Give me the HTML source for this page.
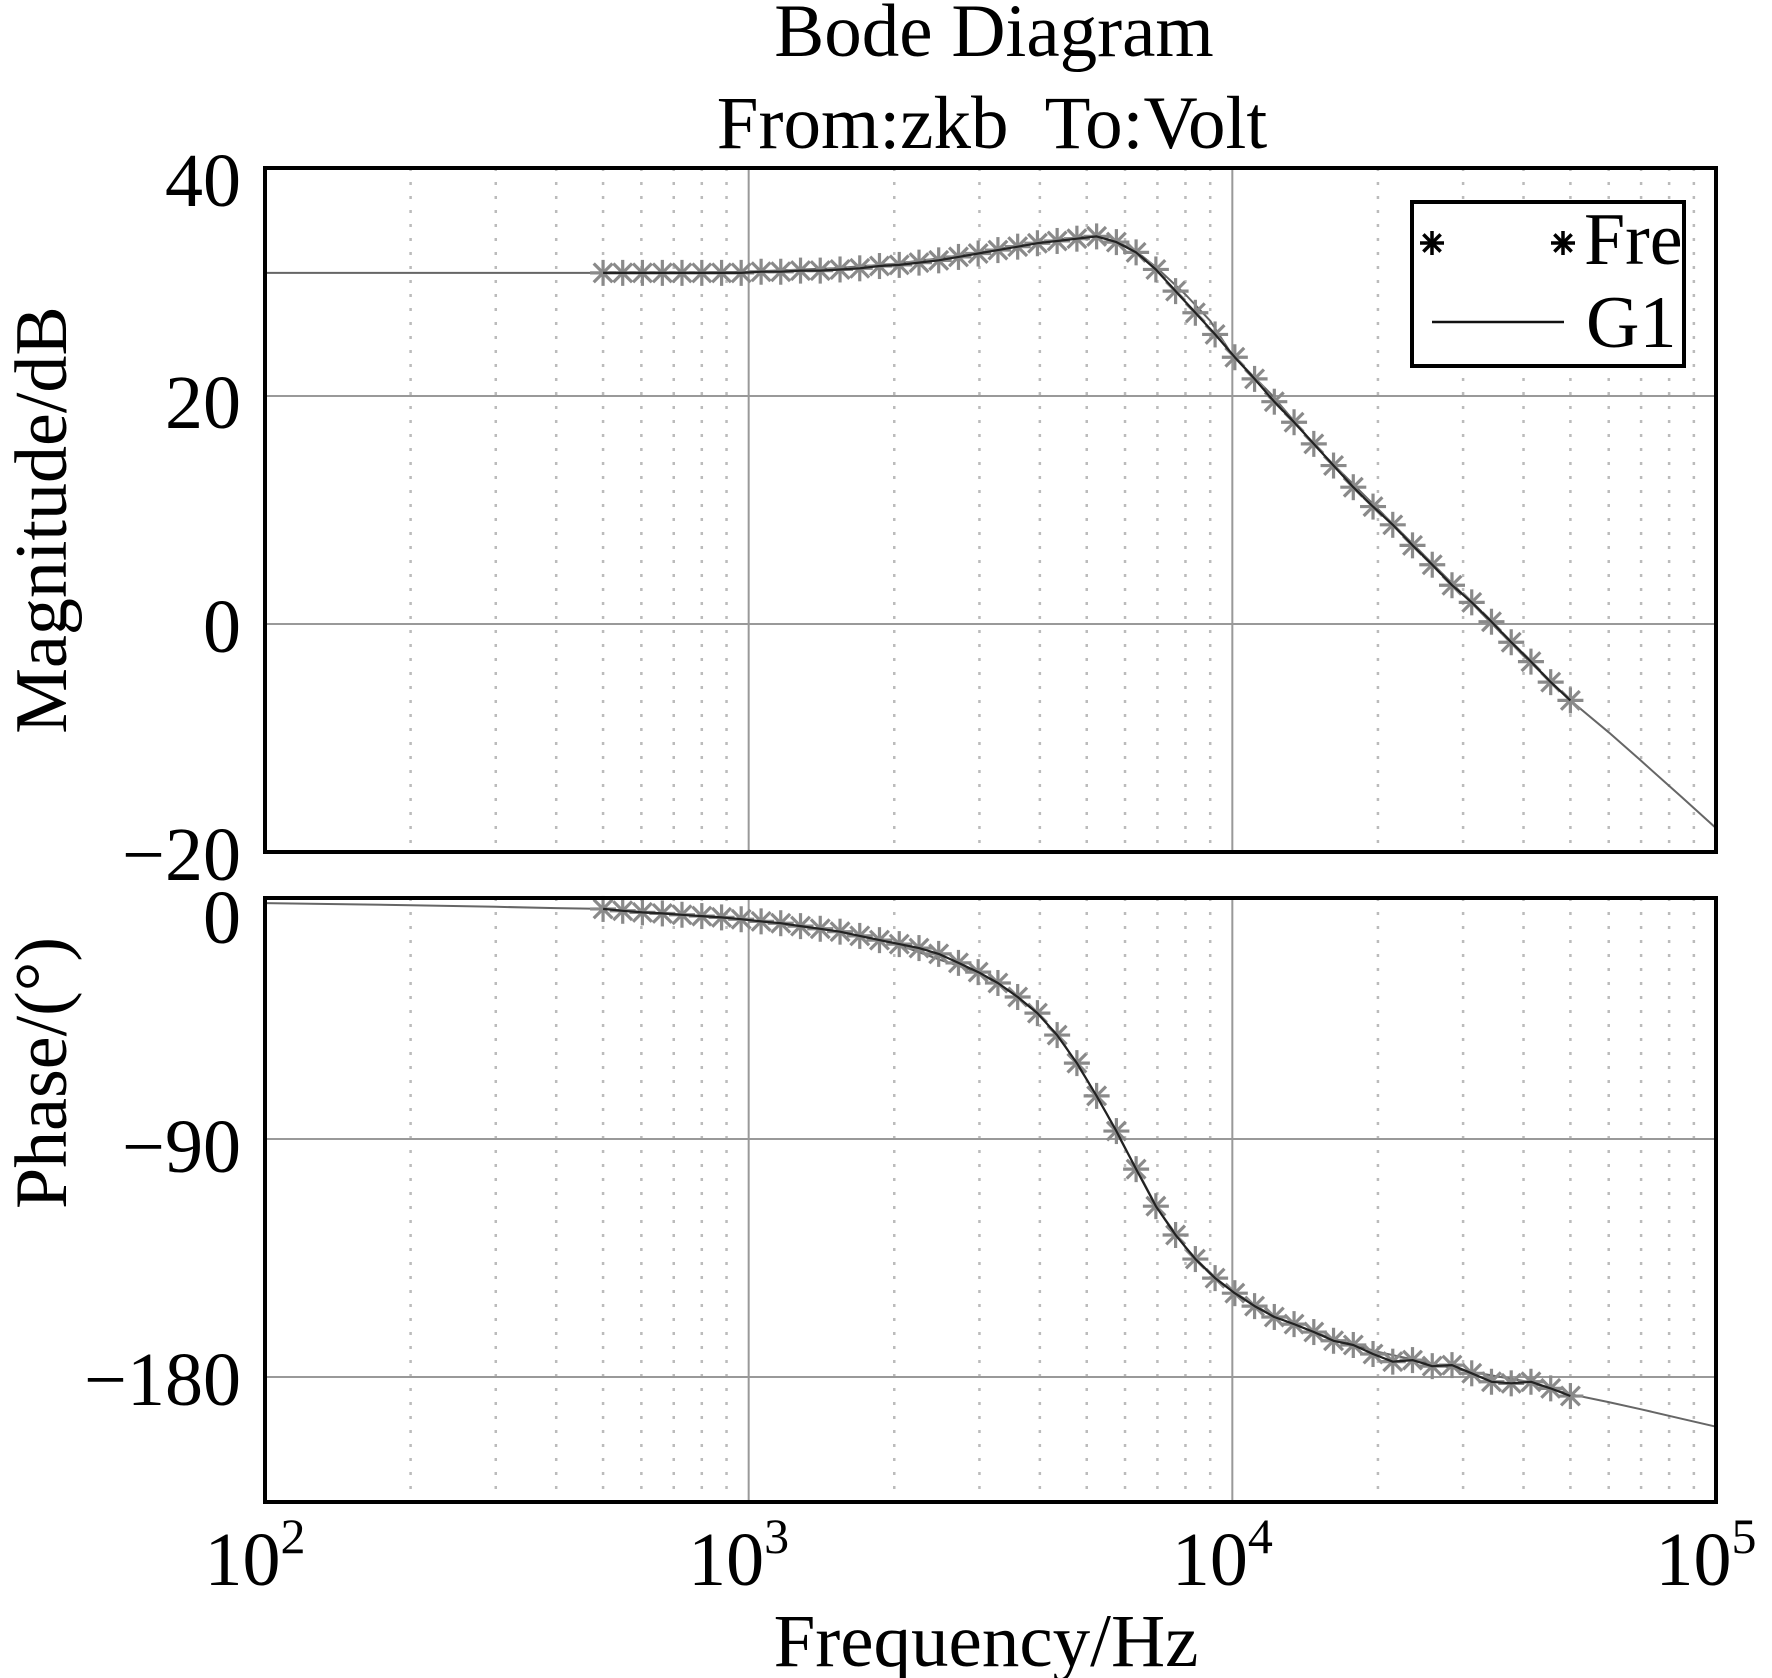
<!DOCTYPE html>
<html><head><meta charset="utf-8"><style>
html,body{margin:0;padding:0;background:#fff;}
svg{display:block;font-family:"Liberation Serif",serif;}
</style></head><body>
<svg id="chart" width="1772" height="1678" viewBox="0 0 1772 1678" xmlns="http://www.w3.org/2000/svg">
<text x="994" y="56" font-size="75" text-anchor="middle">Bode Diagram</text>
<text x="992" y="148" font-size="75" text-anchor="middle" style="white-space:pre">From:zkb  To:Volt</text>
<g id="grid"></g>
<g id="series"></g>
<g id="axes"></g>
<text transform="translate(66,520) rotate(-90)" font-size="74" text-anchor="middle">Magnitude/dB</text>
<text transform="translate(66,1073) rotate(-90)" font-size="74" text-anchor="middle">Phase/(°)</text>
<text x="986" y="1666" font-size="75" text-anchor="middle">Frequency/Hz</text>
<g>
<rect x="1412" y="202" width="272" height="164" fill="#fff" stroke="#000" stroke-width="4"/>
<g id="legendMarkers"></g>
<line x1="1432" y1="322" x2="1564" y2="322" stroke="#111" stroke-width="2.5"/>
<text x="1584" y="264" font-size="74">Fre</text>
<text x="1586" y="347" font-size="74">G1</text>
</g>
</svg>
<script>
const markerFreq = [500,549,603,663,728,800,879,965,1061,1165,1280,1406,1545,1697,1864,2048,2250,2471,2715,2982,3276,3599,3954,4343,4771,5241,5758,6325,6949,7633,8386,9212,10120,11117,12212,13416,14738,16190,17786,19538,21464,23579,25902,28455,31259,34339,37723,41440,45524,50000];
const markerMag = [30.8,30.8,30.8,30.8,30.8,30.8,30.8,30.8,30.9,30.9,31.0,31.0,31.1,31.2,31.4,31.5,31.7,31.9,32.2,32.5,32.8,33.1,33.4,33.6,33.8,34.0,33.5,32.6,31.1,29.2,27.3,25.4,23.4,21.5,19.5,17.7,15.8,13.9,12.0,10.3,8.7,6.9,5.2,3.4,1.9,0.2,-1.6,-3.3,-5.1,-6.7];
const markerPhase = [-3.0,-3.7,-4.3,-4.7,-5.2,-5.7,-6.2,-6.9,-7.7,-8.4,-9.5,-10.5,-11.6,-13.2,-14.8,-16.3,-17.8,-20,-23.4,-26.9,-31,-36.3,-42.4,-50.7,-61.3,-73.7,-87,-101.4,-115.4,-126.3,-135.4,-142.6,-148.3,-153.2,-157.3,-160,-163,-166.3,-167.9,-171.3,-174.2,-173.6,-175.9,-175.5,-178.6,-181.8,-182.4,-181.8,-184.3,-187.2];
const lineFreq = [100,200,300,400,500,700,1000,1500,2000,2500,3000,3500,4000,4500,5000,5500,6000,6500,7000,8000,9000,10000,12000,15000,20000,30000,40000,50000,60000,70000,85000,100000];
const lineMag = [30.8,30.8,30.8,30.8,30.8,30.8,30.9,31.2,31.6,32.1,32.6,33.1,33.5,33.8,34.0,33.8,33.2,32.3,31.2,28.9,26.6,23.6,20.2,15.4,10.1,2.6,-2.8,-6.7,-9.5,-12.0,-15.2,-17.9];
const linePhase = [-0.8,-1.6,-2.2,-2.7,-3.0,-5.0,-7.2,-11.3,-16.0,-22.4,-27.1,-34.7,-43.2,-54.5,-67.5,-80.5,-93.5,-105,-116.3,-131,-141,-147.5,-156.5,-163.6,-170.5,-177.5,-181.5,-186.5,-189.5,-192.2,-195.8,-198.8];
const magTicks = [40,20,0,-20];
const phaseTicks = [0,-90,-180];
const xTickExp = [2,3,4,5];

const NS="http://www.w3.org/2000/svg";
const X0=265,X1=1716;
const MAG={top:168,bot:852,max:40,min:-20};
const PH={top:898,bot:1502,zeroY:901,pxPerDeg:238/90};
function xs(f){return X0+(Math.log10(f)-2)/3*(X1-X0);}
function ym(v){return MAG.top+(MAG.max-v)/(MAG.max-MAG.min)*(MAG.bot-MAG.top);}
function yp(v){return PH.zeroY-v*PH.pxPerDeg;}
function mk(tag,attrs,parent){const e=document.createElementNS(NS,tag);for(const k in attrs)e.setAttribute(k,attrs[k]);parent.appendChild(e);return e;}
const grid=document.getElementById('grid'),series=document.getElementById('series'),axes=document.getElementById('axes');

[[MAG.top,MAG.bot],[PH.top,PH.bot]].forEach(([t,b])=>{
  for(let d=2;d<5;d++){for(let m=1;m<10;m++){
    const x=xs(m*Math.pow(10,d));
    if(m===1){if(d===2)continue;
      const l=mk('line',{x1:x,y1:t,x2:x,y2:b,stroke:'#999','stroke-width':2},grid);
      
      
    }else{
      const l=mk('line',{x1:x,y1:t,x2:x,y2:b,stroke:'#bbb','stroke-width':2.5,'stroke-dasharray':'3,11'},grid);
      
      
    }}}
});
magTicks.forEach(v=>{const y=ym(v);
  if(v<MAG.max&&v>MAG.min){const l=mk('line',{x1:X0,y1:y,x2:X1,y2:y,stroke:'#999','stroke-width':2},grid);
    
    }
  const off=v===MAG.max?38:(v===20?32:28);
  const t=mk('text',{x:241,y:y+off,'font-size':76,'text-anchor':'end'},axes);
  
  
  t.textContent=v<0?'\u2212'+(-v):String(v);
});
phaseTicks.forEach(v=>{const y=yp(v);
  if(v<0){const l=mk('line',{x1:X0,y1:y,x2:X1,y2:y,stroke:'#999','stroke-width':2},grid);
    
    }
  const off=v===0?42:(v===-90?33:28);
  const t=mk('text',{x:241,y:y+off,'font-size':76,'text-anchor':'end'},axes);
  
  
  t.textContent=v<0?'\u2212'+(-v):String(v);
});
xTickExp.forEach(e=>{const x=xs(Math.pow(10,e));
  const t=mk('text',{x:x-10,y:1585,'font-size':76,'text-anchor':'middle'},axes);
  
  
  t.textContent='10';
  const s=mk('tspan',{dy:-32,'font-size':50},t);s.textContent=String(e);
});
[[MAG.top,MAG.bot],[PH.top,PH.bot]].forEach(([t,b],i)=>{
  const r=mk('rect',{x:X0,y:t,width:X1-X0,height:b-t,fill:'none',stroke:'#000','stroke-width':4},axes);
  
  
});
function drawLine(fr,vals,yf,name,color,w){
  const p=mk('polyline',{points:fr.map((f,i)=>xs(f).toFixed(1)+','+yf(vals[i]).toFixed(1)).join(' '),fill:'none',stroke:color,'stroke-width':w,'stroke-linejoin':'round'},series);
  
  
}
function star(cx,cy,r,color,w,parent,name){
  const g=mk('g',{stroke:color,'stroke-width':w},parent);
  
  
  const d=r*0.72;
  mk('line',{x1:cx,y1:cy-r,x2:cx,y2:cy+r},g);
  mk('line',{x1:cx-r,y1:cy,x2:cx+r,y2:cy},g);
  mk('line',{x1:cx-d,y1:cy-d,x2:cx+d,y2:cy+d},g);
  mk('line',{x1:cx-d,y1:cy+d,x2:cx+d,y2:cy-d},g);
}
drawLine(lineFreq,lineMag,ym,'g1-magnitude-line','#666',2);
drawLine(lineFreq,linePhase,yp,'g1-phase-line','#666',2);
markerFreq.forEach((f,i)=>star(xs(f),ym(markerMag[i]),13,'#8a8a8a',3.2,series,'fre-magnitude-marker'));
markerFreq.forEach((f,i)=>star(xs(f),yp(markerPhase[i]),13,'#8a8a8a',3.2,series,'fre-phase-marker'));
drawLine(markerFreq,markerMag,ym,'fre-magnitude-trace','#222',2.2);
drawLine(markerFreq,markerPhase,yp,'fre-phase-trace','#222',2.2);
const lm=document.getElementById('legendMarkers');
star(1432,243,12,'#000',3.5,lm,'legend-marker-left');
star(1563,243,12,'#000',3.5,lm,'legend-marker-right');
</script>
</body></html>
